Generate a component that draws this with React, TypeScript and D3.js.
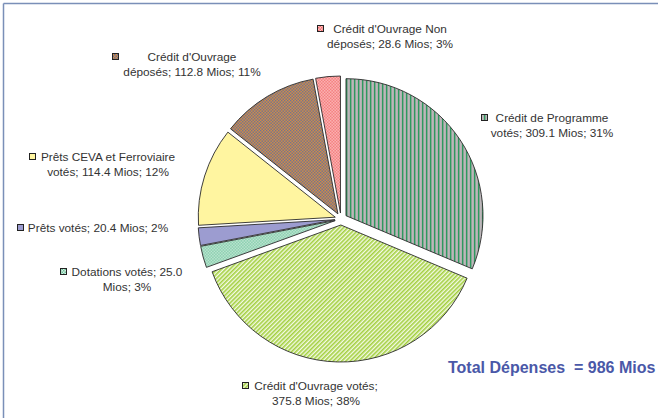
import React from "react";
import * as d3 from "d3";

const categories = [
  "Crédit de Programme votés",
  "Crédit d'Ouvrage votés",
  "Dotations votés",
  "Prêts votés",
  "Prêts CEVA et Ferroviaire votés",
  "Crédit d'Ouvrage déposés",
  "Crédit d'Ouvrage Non déposés",
];
const values = [309.1, 375.8, 25.0, 20.4, 114.4, 112.8, 28.6];
const percents = ["31%", "38%", "3%", "2%", "12%", "11%", "3%"];
const labelLines = [
  ["Crédit de Programme", "votés; 309.1 Mios; 31%"],
  ["Crédit d'Ouvrage votés;", "375.8 Mios; 38%"],
  ["Dotations votés; 25.0", "Mios; 3%"],
  ["Prêts votés; 20.4 Mios; 2%"],
  ["Prêts CEVA et Ferroviaire", "votés; 114.4 Mios; 12%"],
  ["Crédit d'Ouvrage", "déposés; 112.8 Mios; 11%"],
  ["Crédit d'Ouvrage Non", "déposés; 28.6 Mios; 3%"],
];
const totalLabel = "Total Dépenses  = 986 Mios";

// layout (not data)
const W = 658, H = 418;
const CX = 341, CY = 219, R = 137, EXPLODE = 6;
const fills = ["url(#pProg)", "url(#pVotes)", "url(#pDot)", "#9C9CD0", "#FFF5A0", "url(#pDep)", "url(#pNon)"];
const labelLayout = [
  { cx: 552, y: 122, mx: 481 },
  { cx: 316, y: 390, mx: 242 },
  { cx: 127, y: 276, mx: 60 },
  { cx: 98, y: 232, mx: 17 },
  { cx: 108, y: 161, mx: 29 },
  { cx: 192, y: 61, mx: 112 },
  { cx: 390, y: 33, mx: 317 },
];

export default function App() {
  const pie = d3.pie<number>().sort(null).value((d) => d).startAngle(0).endAngle(2 * Math.PI);
  const arcs = pie(values);
  const arc = d3.arc<d3.PieArcDatum<number>>().innerRadius(0).outerRadius(R);
  const font = "'Liberation Sans', Arial, sans-serif";
  return (
    <svg width={W} height={H} style={{ position: "absolute", left: 0, top: 0, display: "block" }}>
      <defs>
        <pattern id="pProg" width="4" height="4" patternUnits="userSpaceOnUse">
          <rect width="4" height="4" fill="#ABABAB" />
          <rect x="0" width="1.3" height="4" fill="#2E9A5E" />
          <rect x="2.4" width="0.8" height="4" fill="#C8BFC4" />
        </pattern>
        <pattern id="pVotes" width="3" height="3" patternUnits="userSpaceOnUse" patternTransform="rotate(45)">
          <rect width="3" height="3" fill="#F4FAE6" />
          <rect width="1.6" height="3" fill="#A4D040" />
        </pattern>
        <pattern id="pDot" width="3" height="3" patternUnits="userSpaceOnUse">
          <rect width="3" height="3" fill="#D8F0E4" />
          <rect width="1.5" height="1.5" fill="#6CC39A" />
          <rect x="1.5" y="1.5" width="1.5" height="1.5" fill="#6CC39A" />
        </pattern>
        <pattern id="pDep" width="3" height="3" patternUnits="userSpaceOnUse">
          <rect width="3" height="3" fill="#E0913A" />
          <rect width="1.5" height="1.5" fill="#66709A" />
          <rect x="1.5" y="1.5" width="1.5" height="1.5" fill="#66709A" />
        </pattern>
        <pattern id="pNon" width="3" height="3" patternUnits="userSpaceOnUse">
          <rect width="3" height="3" fill="#FFC8C8" />
          <rect width="1.5" height="1.5" fill="#F06A6A" />
          <rect x="1.5" y="1.5" width="1.5" height="1.5" fill="#F06A6A" />
        </pattern>
      </defs>
      <rect width={W} height={H} fill="#FFFFFF" />
      <line x1={3.5} y1={3.5} x2={W} y2={3.5} stroke="#7A8FB8" strokeWidth={1.5} />
      <line x1={3.5} y1={3.5} x2={3.5} y2={H} stroke="#7A8FB8" strokeWidth={1.5} />
      <g transform={`translate(${CX},${CY})`}>
        {arcs.map((a, i) => {
          const mid = (a.startAngle + a.endAngle) / 2;
          const dx = Math.sin(mid) * EXPLODE;
          const dy = -Math.cos(mid) * EXPLODE;
          return (
            <path
              key={i}
              d={arc(a) || ""}
              transform={`translate(${dx},${dy})`}
              fill={fills[i]}
              stroke="#2A2A2A"
              strokeWidth={0.9}
            />
          );
        })}
      </g>
      {labelLayout.map((l, i) => (
        <g key={i} fontFamily={font} fontSize={11.8} fill="#333333">
          <rect x={l.mx + 0.5} y={l.y - 7.5} width={6} height={6} fill={fills[i]} stroke="#222" strokeWidth={1} />
          {labelLines[i].map((t, j) => (
            <text key={j} x={l.cx} y={l.y + j * 15} textAnchor="middle">
              {t}
            </text>
          ))}
        </g>
      ))}
      <text x={448} y={373} fontFamily={font} fontSize={16} fontWeight="bold" fill="#4A58A8" style={{ whiteSpace: "pre" }}>
        {totalLabel}
      </text>
    </svg>
  );
}
